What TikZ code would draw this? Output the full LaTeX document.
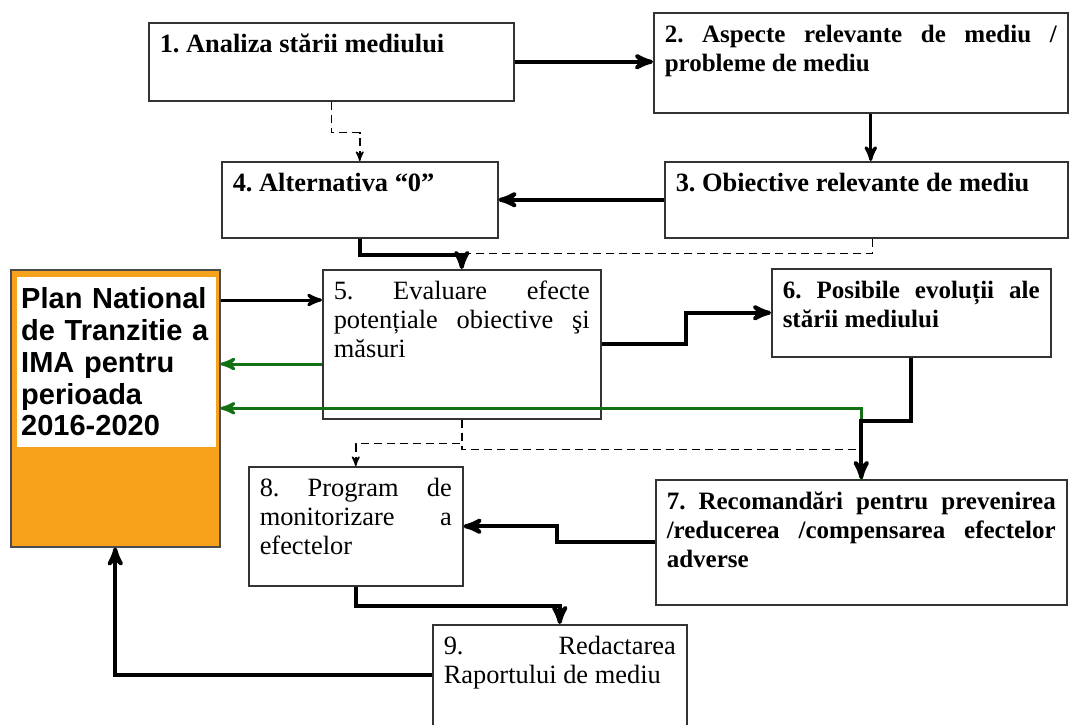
\documentclass[tikz,border=0pt]{standalone}
\usepackage{fontspec}
\setmainfont{Liberation Serif}
\newfontfamily\plansans{Liberation Sans}
\usetikzlibrary{shapes,arrows,positioning}
\definecolor{planorange}{RGB}{248,161,26}
\definecolor{backgreen}{RGB}{20,112,20}
\hbadness=10000
\frenchspacing

\begin{document}
\begin{tikzpicture}[
    x=0.5pt, y=-0.5pt, >=stealth',
    block/.style={draw=black!80, line width=0.75pt, fill=white, rectangle, anchor=north west, align=justify, inner xsep=5.5pt, inner ysep=0pt, text height=15pt, font=\fontsize{13.2}{14.5}\selectfont},
    strong/.style={block, font=\fontsize{12.5}{14.5}\selectfont\bfseries},
    heading/.style={block, font=\fontsize{13.2}{14.5}\selectfont\bfseries},
    planbox/.style={draw=black!70, line width=0.75pt, fill=planorange, anchor=north west, align=left, text width=94pt, inner xsep=5.25pt, inner ysep=0pt, text height=19.5pt, text depth=119pt, font=\plansans\bfseries\fontsize{14.5}{15.9}\selectfont,
        path picture={\fill[white] ([xshift=3pt,yshift=-3.5pt]path picture bounding box.north west) rectangle ([xshift=-2pt,yshift=50pt]path picture bounding box.south east);}},
    arrow/.style={->, line width=2pt},
    thinarrow/.style={arrow, line width=1.5pt},
    greenarrow/.style={thinarrow, draw=backgreen},
    dashline/.style={line width=0.75pt, dash pattern=on 4pt off 2.5pt}
]
\useasboundingbox (0,0) rectangle (1070,724);
\clip (0,0) rectangle (1070,724);

% Plan
\node[planbox] (plan) at (10,269) {Plan National\\de Tranzitie a\\IMA pentru\\perioada\\2016-2020};

% Steps
\node[heading, text width=171.5pt, text depth=24pt] (analiza) at (148,22) {1. Analiza stării mediului};
\node[strong, text width=196pt, text depth=35pt] (aspecte) at (653,12) {2. Aspecte relevante de mediu /\linebreak probleme de mediu};
\node[heading, text width=190.5pt, text depth=23pt] (obiective) at (664,161) {3. Obiective relevante de mediu};
\node[heading, text width=127pt, text depth=23pt] (alternativa) at (221,161) {4. Alternativa “0”};
\node[block, text width=128pt, text depth=59.5pt] (evaluare) at (322,269) {5. Evaluare efecte\linebreak potențiale obiective şi\linebreak măsuri};
\node[strong, text width=128.5pt, text depth=29pt] (evolutii) at (771,268) {6. Posibile evoluții ale\linebreak stării mediului};
\node[strong, text width=194.5pt, text depth=47.5pt] (recomandari) at (655,479) {7. Recomandări pentru prevenirea\linebreak /reducerea /compensarea efectelor\linebreak adverse};
\node[block, text width=96pt, text depth=44.5pt] (monitorizare) at (248,466) {8. Program de\linebreak monitorizare a\linebreak efectelor};
\node[block, text width=116pt, text depth=45.5pt] (raport) at (432,624) {9. Redactarea\linebreak Raportului de mediu};

% Dashed links
\draw[dashline] ([xshift=3pt]obiective.south) -- ++(0,15) -| (evaluare.north);
\draw[dashline] (evaluare.south) -- ++(0,30) -| (recomandari.north);
\draw[dashline, ->] (analiza.south) -- ++(0,31) -| (alternativa.north);
\draw[dashline, ->] (evaluare.south) -- ++(0,24) -| (monitorizare.north);

% Feedback to plan
\draw[greenarrow] (recomandari.north) |- (plan.east);
\draw[greenarrow] ([yshift=-47.5pt]evaluare.north west) -- ([yshift=-47.5pt]evaluare.north west -| plan.east);
\draw[thinarrow] ([yshift=-15.5pt]plan.north east) -- ([yshift=-15.5pt]plan.north east -| evaluare.west);

% Main flow
\draw[arrow] (analiza.east) -- (analiza.east -| aspecte.west);
\draw[thinarrow] ([xshift=5pt]aspecte.south) -- ([xshift=5pt]aspecte.south |- obiective.north);
\draw[arrow] (obiective.west) -- (obiective.west -| alternativa.east);
\draw[arrow] (alternativa.south) -- ++(0,16) -| (evaluare.north);
\draw[arrow] (evaluare.east) -- ++(84,0) |- (evolutii.west);
\draw[arrow] (evolutii.south) -- ++(0,63) -| (recomandari.north);
\draw[arrow] (recomandari.west) -- ++(-98,0) |- (monitorizare.east);
\draw[arrow] (monitorizare.south) -- ++(0,19) -| (raport.north);
\draw[arrow] ([yshift=-25.5pt]raport.north west) -| (plan.south);
\end{tikzpicture}
\end{document}
